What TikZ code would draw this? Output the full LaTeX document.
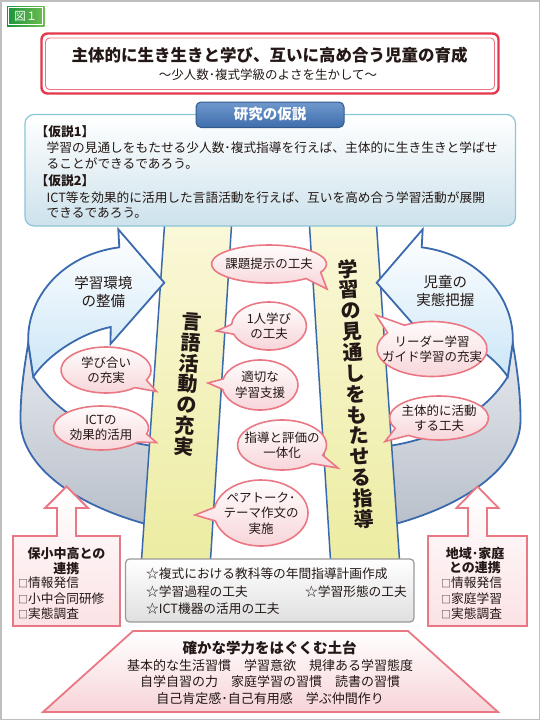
\documentclass[tikz,border=0pt]{standalone}
\usepackage{fontspec}
\setmainfont{Noto Sans CJK JP}
\usepackage{tikz}
\usepackage{xcolor}
\usetikzlibrary{calc}
\definecolor{fig_text}{RGB}{35,24,21}
\definecolor{fig_frame}{RGB}{190,190,190}
\definecolor{fig_red}{RGB}{228,55,75}
\definecolor{fig_pink}{RGB}{234,120,132}
\definecolor{fig_blue}{RGB}{58,106,173}
\definecolor{fig_sky}{RGB}{140,196,216}
\definecolor{fig_skyfill}{RGB}{205,226,236}
\definecolor{fig_tab}{RGB}{62,110,172}
\definecolor{fig_tabtop}{RGB}{112,152,205}
\definecolor{fig_arrowfill}{RGB}{204,230,247}
\definecolor{fig_gray}{RGB}{184,191,201}
\definecolor{fig_graytop}{RGB}{230,233,238}
\definecolor{fig_yellow}{RGB}{236,236,162}
\definecolor{fig_yellowtop}{RGB}{250,248,216}
\definecolor{fig_bubble}{RGB}{247,212,216}
\definecolor{fig_boxpink}{RGB}{251,226,229}
\definecolor{fig_green}{RGB}{28,148,60}
\definecolor{fig_greenlight}{RGB}{110,190,80}

\tikzset{
  bubble/.style={draw=fig_pink, line width=1.6pt, top color=white, bottom color=fig_bubble},
  bubbletext/.style={font=\fontsize{12.5}{15.5}\selectfont, text=fig_text, align=center, inner sep=0pt},
  cycarrow/.style={draw=fig_blue, line width=1.8pt, top color=white, bottom color=fig_arrowfill},
  ringpart/.style={draw=fig_blue, line width=1.8pt, top color=fig_graytop, bottom color=fig_gray},
  band/.style={draw=fig_blue, line width=1.5pt, top color=fig_yellowtop, bottom color=fig_yellow},
  bandtext/.style={font=\bfseries\fontsize{20}{20.9}\selectfont, text=fig_text, align=center, inner sep=0pt},
  arrowtext/.style={font=\fontsize{14.5}{18}\selectfont, text=fig_text, align=center, inner sep=0pt},
  linkbox/.style={draw=fig_pink, line width=1.8pt, top color=white, bottom color=fig_boxpink},
  body/.style={font=\fontsize{12.7}{16}\selectfont, text=fig_text, inner sep=0pt},
  headtext/.style={font=\bfseries\fontsize{13}{14.5}\selectfont, text=fig_text, inner sep=0pt, align=center},
}

% 吹き出し: 名前, 中心, 横半径, 縦半径, 先端, 向き, 文字
\newcommand{\fukidashi}[7]{%
  \path[bubble] (#5) -- ($(#2)+(#6+12:#3 and #4)$)
    arc[start angle=#6+12, end angle=#6+348, x radius=#3, y radius=#4] -- cycle;
  \node[bubbletext] (#1) at (#2) {#7};}
\newcommand{\shikaku}{{\fontsize{10}{10}\selectfont □}}

\begin{document}
\begin{tikzpicture}[x=1pt,y=-1pt]
  \useasboundingbox (0,0) rectangle (540,720);
  \draw[fig_frame, line width=1.5pt] (0.75,0.75) rectangle (539.25,719.25);
  %図番号
  \path[left color=fig_green, right color=fig_greenlight] (7,6) rectangle (44.5,26);
  \draw[white, line width=0.8pt] (8.8,7.8) rectangle (42.7,24.2);
  \node[white, font=\fontsize{11.5}{12}\selectfont, inner sep=0pt] (zu) at (25.8,16) {図１};
  %題目
  \draw[fig_red, line width=2.4pt, rounded corners=6pt] (41.5,33.5) rectangle (498.5,93.5);
  \draw[fig_red!70, line width=0.9pt, rounded corners=4pt] (45.5,38) rectangle (494.5,89.5);
  \node[font=\bfseries\fontsize{16.5}{18}\selectfont, text=fig_text, inner sep=0pt] (title) at (269.5,55) {主体的に生き生きと学び、互いに高め合う児童の育成};
  \node[font=\fontsize{12.5}{14}\selectfont, text=fig_text, inner sep=0pt] (subtitle) at (268,74.5) {～少人数･複式学級のよさを生かして～};

  %循環の矢印(左右対称)
  \foreach \s/\o in {1/0pt,-1/541pt}{
    \begin{scope}[xshift=\o, xscale=\s]
      \draw[ringpart] (28.3,343) .. controls (22,380) and (20.5,400) .. (20.5,420)
        arc[start angle=180, end angle=116, x radius=250, y radius=120]
        -- (160,447) .. controls (100,440) and (55,412) .. (33.3,376.7) -- cycle;
    \end{scope}
  }
  %縦の柱
  \draw[band] (164.6,224) -- (231.6,224) -- (210.5,560) -- (141.5,560) -- cycle;
  \draw[band] (309.4,224) -- (376.4,224) -- (399.5,560) -- (330.5,560) -- cycle;
  \node[bandtext, rotate=-3.6] (gengo) at (188,384.5) {言\\語\\活\\動\\の\\充\\実};
  \node[bandtext, rotate=3.6] (mitoshi) at (356,394) {学\\習\\の\\見\\通\\し\\を\\も\\た\\せ\\る\\指\\導};
  \foreach \s/\o in {1/0pt,-1/541pt}{
    \begin{scope}[xshift=\o, xscale=\s]
      \draw[cycarrow] (118.3,229.3) -- (164.3,282.7) -- (110.5,344) -- (110.7,327)
        .. controls (85,332) and (50,352) .. (33.3,376.7) -- (28.3,343)
        .. controls (26,300) and (60,255) .. (119.3,247.3) -- cycle;
    \end{scope}
  }
  \node[arrowtext] (kankyo) at (103.3,292) {学習環境\\の整備};
  \node[arrowtext] (jittai) at (445.3,291) {児童の\\実態把握};

  %研究の仮説
  \draw[draw=fig_sky, line width=1.2pt, rounded corners=9pt, top color=white, bottom color=fig_skyfill] (25,114.5) rectangle (515.5,226);
  \draw[draw=fig_tab!80!black, line width=1pt, rounded corners=5pt, top color=fig_tabtop, bottom color=fig_tab] (196,102) rectangle (344,127.5);
  \node[font=\bfseries\fontsize{14.5}{16}\selectfont, white, inner sep=0pt] (tab) at (270,114.5) {研究の仮説};
  \node[body, font=\bfseries\fontsize{12.7}{16}\selectfont, anchor=west] (kasetsu1) at (35.5,132) {【仮説1】};
  \node[body, anchor=west] (h1a) at (46.5,148) {学習の見通しをもたせる少人数･複式指導を行えば、主体的に生き生きと学ばせ};
  \node[body, anchor=west] (h1b) at (46.5,164) {ることができるであろう。};
  \node[body, font=\bfseries\fontsize{12.7}{16}\selectfont, anchor=west] (kasetsu2) at (35.5,181) {【仮説2】};
  \node[body, anchor=west] (h2a) at (46.5,197.5) {ICT等を効果的に活用した言語活動を行えば、互いを高め合う学習活動が展開};
  \node[body, anchor=west] (h2b) at (46.5,213) {できるであろう。};

  %計画
  \draw[draw=gray!80, line width=1.2pt, rounded corners=4pt, top color=white, bottom color=gray!25] (125.5,559) rectangle (414,622);
  \node[body, anchor=west] (plan1) at (146,574) {☆複式における教科等の年間指導計画作成};
  \node[body, anchor=west] (plan2) at (146,591.5) {☆学習過程の工夫};
  \node[body, anchor=west] (plan3) at (305,591.5) {☆学習形態の工夫};
  \node[body, anchor=west] (plan4) at (146,608.5) {☆ICT機器の活用の工夫};

  %連携
  \draw[linkbox] (66.5,486.5) -- (88,508) -- (76,508) -- (76,536) -- (120,536) -- (120,626)
    -- (13,626) -- (13,536) -- (57,536) -- (57,508) -- (45,508) -- cycle;
  \draw[linkbox] (477.5,486.5) -- (498.5,508) -- (487,508) -- (487,536) -- (527,536) -- (527,626)
    -- (428,626) -- (428,536) -- (468,536) -- (468,508) -- (456.5,508) -- cycle;
  \node[headtext] (renkei1) at (66.5,561) {保小中高との\\連携};
  \node[body, anchor=west, align=left, font=\fontsize{12.7}{15.3}\selectfont] (list1) at (18,598.5) {\shikaku 情報発信\\\shikaku 小中合同研修\\\shikaku 実態調査};
  \node[headtext] (renkei2) at (475,560.5) {地域･家庭\\との連携};
  \node[body, anchor=west, align=left, font=\fontsize{12.7}{15.3}\selectfont] (list2) at (441,598.5) {\shikaku 情報発信\\\shikaku 家庭学習\\\shikaku 実態調査};

  %土台
  \draw[draw=fig_pink, line width=1.8pt, top color=white, bottom color=fig_bubble] (133,631) -- (408,631) -- (498,712) -- (43,712) -- cycle;
  \node[headtext, font=\bfseries\fontsize{14.5}{16}\selectfont] (dodai) at (269.5,648) {確かな学力をはぐくむ土台};
  \node[body, align=center, font=\fontsize{13}{16.7}\selectfont] (dodaitext) at (270,682) {基本的な生活習慣　学習意欲　規律ある学習態度\\自学自習の力　家庭学習の習慣　読書の習慣\\自己肯定感･自己有用感　学ぶ仲間作り};

  %吹き出し
  \fukidashi{kadai}{269,264}{57.5}{19}{327,289}{38}{課題提示の工夫}
  \fukidashi{hitori}{269,326}{37.5}{24}{216.5,331}{172}{1人学び\\の工夫}
  \fukidashi{tekisetsu}{260,385}{38}{25}{208,383}{182}{適切な\\学習支援}
  \fukidashi{shido}{282,445}{44.5}{25}{338,468}{36}{指導と評価の\\一体化}
  \fukidashi{pair}{261,513}{47}{33}{195,515}{178}{ペアトーク･\\テーマ作文の\\実施}
  \fukidashi{manabi}{106,370}{45}{23}{156.5,391.5}{38}{学び合い\\の充実}
  \fukidashi{ict}{101,428}{47.5}{22}{156.5,442.5}{28}{ICTの\\効果的活用}
  \fukidashi{leader}{432,349}{55}{27.5}{376,315}{228}{リーダー学習\\ガイド学習の充実}
  \fukidashi{shutai}{439,418}{49.5}{22}{385,441.5}{140}{主体的に活動\\する工夫}
\end{tikzpicture}
\end{document}
